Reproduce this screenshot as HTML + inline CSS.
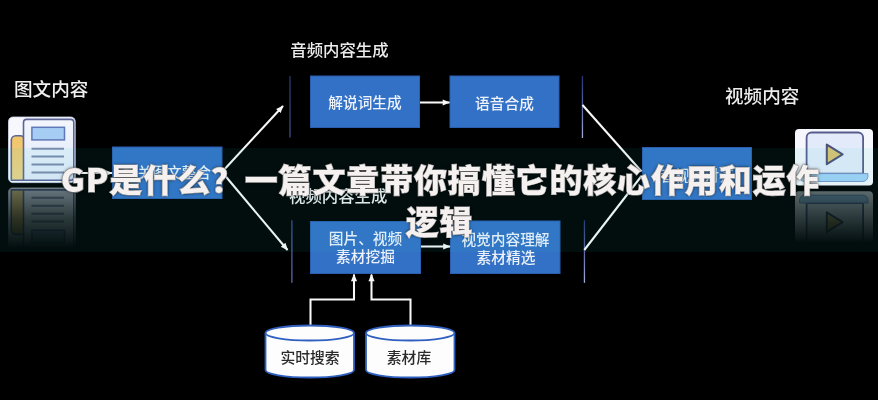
<!DOCTYPE html>
<html lang="zh-CN">
<head>
<meta charset="utf-8">
<title>GP是什么？一篇文章带你搞懂它的核心作用和运作逻辑</title>
<style>
  html, body { margin: 0; padding: 0; background: #000; }
  body { width: 878px; height: 400px; overflow: hidden; position: relative;
         font-family: "Liberation Sans", "Noto Sans CJK SC", sans-serif; }
  .stage { position: absolute; left: 0; top: 0; width: 878px; height: 400px; background: #000; overflow: hidden; }
  svg.diagram { position: absolute; left: 0; top: 0; width: 878px; height: 400px; filter: blur(0.45px); }
  svg.diagram text { font-family: "Liberation Sans", "Noto Sans CJK SC", sans-serif; font-weight: 500; }
  .band { position: absolute; left: 0; top: 148px; width: 878px; height: 104px;
          background: rgba(30, 200, 200, 0.07); }
  .title { position: absolute; left: 1.5px; top: 158px; width: 878px; margin: 0;
           text-align: center; color: #f5f1f0; white-space: nowrap;
           font-family: "Noto Sans CJK SC", "Liberation Sans", sans-serif;
           font-weight: 900; font-size: 33px; line-height: 41px; letter-spacing: 0.85px;
           -webkit-text-stroke: 1px #f5f1f0; paint-order: stroke fill;
           transform: scaleY(0.98); transform-origin: 50% 50%;
           text-shadow: 0 0 2px rgba(0,0,0,0.8), 0 0 4px rgba(0,0,0,0.45); }
</style>
</head>
<body>
<div class="stage">
<svg class="diagram" viewBox="0 0 878 400" width="878" height="400">
  <defs>
    <marker id="ah" viewBox="0 0 10 10" refX="9" refY="5" markerWidth="8" markerHeight="7.600" orient="auto-start-reverse" markerUnits="userSpaceOnUse">
      <path d="M0,1 L10,5 L0,9 z" fill="#f8f8f8"/>
    </marker>
    <linearGradient id="fadeL" x1="0" y1="0" x2="0" y2="1">
      <stop offset="0" stop-color="#fff" stop-opacity="0.5"/>
      <stop offset="0.5" stop-color="#fff" stop-opacity="0.2"/>
      <stop offset="1" stop-color="#fff" stop-opacity="0"/>
    </linearGradient>
    <linearGradient id="fadeR" x1="0" y1="0" x2="0" y2="1">
      <stop offset="0" stop-color="#fff" stop-opacity="0.4"/>
      <stop offset="0.3" stop-color="#fff" stop-opacity="0.28"/>
      <stop offset="1" stop-color="#fff" stop-opacity="0"/>
    </linearGradient>
    <linearGradient id="vA" x1="0" y1="0" x2="0" y2="1">
      <stop offset="0" stop-color="#2b3a74"/><stop offset="1" stop-color="#46558f"/>
    </linearGradient>
    <linearGradient id="vB" x1="0" y1="0" x2="0" y2="1">
      <stop offset="0" stop-color="#27336f"/><stop offset="0.5" stop-color="#5a66a8"/><stop offset="1" stop-color="#a3abd9"/>
    </linearGradient>
    <linearGradient id="vC" x1="0" y1="0" x2="0" y2="1">
      <stop offset="0" stop-color="#3d4c92"/><stop offset="1" stop-color="#6772b4"/>
    </linearGradient>
    <linearGradient id="paperG" x1="0" y1="0" x2="0" y2="1">
      <stop offset="0" stop-color="#f3f6fd"/>
      <stop offset="1" stop-color="#dfe8f8"/>
    </linearGradient>
    <linearGradient id="foldG" x1="0" y1="0" x2="0" y2="1">
      <stop offset="0" stop-color="#f3c568"/>
      <stop offset="1" stop-color="#e9d38c"/>
    </linearGradient>
    <mask id="mL"><rect x="0" y="187.400" width="100" height="61" fill="url(#fadeL)"/></mask>
    <mask id="mR"><rect x="780" y="191" width="100" height="52" fill="url(#fadeR)"/></mask>

    <!-- newspaper icon -->
    <g id="docIcon">
      <rect x="8.500" y="117" width="66.700" height="65.600" rx="4.500" fill="#f6f8fd"/>
      <rect x="8.500" y="117" width="66.700" height="65.600" rx="4.500" fill="none" stroke="#d5daee" stroke-width="0.800"/>
      <path d="M11.300 180.300 V140.300 a4.500 4.500 0 0 1 4.500 -4.500 H20.500 a3.500 3.500 0 0 1 3.500 3.500 V180.300 Z" fill="url(#foldG)" stroke="#5c6498" stroke-width="1.600" stroke-linejoin="round"/>
      <path d="M23.500 180.300 V122.400 a3 3 0 0 1 3 -3 H70.800 a3 3 0 0 1 3 3 V177.300 a3 3 0 0 1 -3 3 Z" fill="url(#paperG)" stroke="#5c6498" stroke-width="1.600"/>
      <rect x="31.900" y="127.300" width="32.600" height="12.600" fill="#a6cdf4" stroke="#5f78b6" stroke-width="1.500"/>
      <g stroke="#7c89ab" stroke-width="2">
        <line x1="31.500" y1="148.700" x2="64" y2="148.700"/>
        <line x1="31.500" y1="156.500" x2="64" y2="156.500"/>
        <line x1="31.500" y1="164.400" x2="64" y2="164.400"/>
        <line x1="31.500" y1="172.400" x2="64" y2="172.400"/>
      </g>
    </g>

    <!-- video icon -->
    <g id="vidIcon">
      <rect x="795" y="129" width="78" height="56.400" rx="4" fill="#f5f7fd"/>
      <path d="M806.600 173.600 V137.500 a5 5 0 0 1 5 -5 H858.100 a5 5 0 0 1 5 5 V173.600 Z" fill="#e3ebfa" stroke="#565c8c" stroke-width="1.800"/>
      <path d="M799.600 173.600 H867.900 V176.500 a5 5 0 0 1 -5 5 H804.600 a5 5 0 0 1 -5 -5 Z" fill="#a1d1f6" stroke="#6f8fc4" stroke-width="0.900"/>
      <path d="M826.800 144.600 L842.600 154.400 L826.800 164.200 Z" fill="#dcc272" stroke="#4a4e78" stroke-width="2" stroke-linejoin="round"/>
    </g>
  </defs>

  <!-- labels -->
  <text x="14" y="95.800" font-size="18.600" fill="#f0f0f0">图文内容</text>
  <text x="290.300" y="56" font-size="16.400" fill="#ececec">音频内容生成</text>
  <text x="289" y="201.500" font-size="16.400" fill="#ececec">视频内容生成</text>
  <text x="725" y="103" font-size="18.600" fill="#ececec">视频内容</text>

  <!-- icons + reflections -->
  <use href="#docIcon"/>
  <g mask="url(#mL)"><use href="#docIcon" transform="translate(0,370.200) scale(1,-1)"/></g>
  <use href="#vidIcon"/>
  <g mask="url(#mR)"><use href="#vidIcon" transform="translate(0,376.600) scale(1,-1)"/></g>

  <!-- thin vertical guide lines -->
  <g>
    <rect x="289.400" y="76" width="1.200" height="61.500" fill="url(#vA)"/>
    <rect x="581.800" y="76" width="1.300" height="62" fill="url(#vB)"/>
    <rect x="291.300" y="220.300" width="1.200" height="62.500" fill="url(#vC)"/>
    <rect x="583.800" y="220.300" width="1.300" height="62.500" fill="url(#vB)"/>
  </g>

  <!-- blue process boxes -->
  <g fill="#3371c6" stroke="#2b5eae" stroke-width="1">
    <rect x="112.500" y="147" width="109.500" height="51.500"/>
    <rect x="310.500" y="76" width="109" height="51.500"/>
    <rect x="450" y="76" width="109" height="51.500"/>
    <rect x="310.500" y="221.500" width="110" height="52"/>
    <rect x="450.500" y="221" width="109.500" height="52.500"/>
    <rect x="642.500" y="147.500" width="109" height="52"/>
  </g>

  <!-- box captions -->
  <g fill="#eef2fa" font-size="14.700" text-anchor="middle">
    <text x="167" y="178">相关图文整合</text>
    <text x="365" y="107.500">解说词生成</text>
    <text x="504.500" y="108.500">语音合成</text>
    <text x="365.500" y="243.500">图片、视频</text>
    <text x="365.500" y="262">素材挖掘</text>
    <text x="505.500" y="245">视觉内容理解</text>
    <text x="506" y="262.500">素材精选</text>
    <text x="697" y="181">音视频对齐</text>
  </g>

  <!-- connectors -->
  <g stroke="#f8f8f8" stroke-width="2.050" fill="none">
    <line x1="76" y1="173" x2="112" y2="173" marker-end="url(#ah)"/>
    <line x1="222" y1="172" x2="283" y2="106" marker-end="url(#ah)"/>
    <line x1="222" y1="172" x2="287.500" y2="250" marker-end="url(#ah)"/>
    <line x1="420" y1="102.500" x2="449.500" y2="102.500" marker-end="url(#ah)"/>
    <line x1="421" y1="246.500" x2="450" y2="246.500" marker-end="url(#ah)"/>
    <line x1="582.500" y1="105" x2="641.500" y2="171.500"/>
    <line x1="584.300" y1="250" x2="641.500" y2="176"/>
    <polyline points="310.500,327 310.500,299.500 354,299.500 354,274.500" marker-end="url(#ah)"/>
    <polyline points="410.500,327 410.500,299.500 371.500,299.500 371.500,274.500" marker-end="url(#ah)"/>
  </g>

  <!-- data stores -->
  <g fill="#fdfdfd" stroke="#2f5fbf" stroke-width="1.800">
    <path d="M265.500 333 V370 a44.250 7.500 0 0 0 88.500 0 V333"/>
    <ellipse cx="309.750" cy="333" rx="44.250" ry="7.500"/>
    <path d="M366 333 V370 a44.250 7.500 0 0 0 88.500 0 V333"/>
    <ellipse cx="410.250" cy="333" rx="44.250" ry="7.500"/>
  </g>
  <g fill="#2a2a2a" font-size="14.800" text-anchor="middle">
    <text x="310" y="363">实时搜索</text>
    <text x="409" y="363">素材库</text>
  </g>
</svg>
<div class="band"></div>
<h1 class="title">GP是什么？一篇文章带你搞懂它的核心作用和运作<br><span style="position:relative;left:-1px;top:1.5px">逻辑</span></h1>
</div>
</body>
</html>
